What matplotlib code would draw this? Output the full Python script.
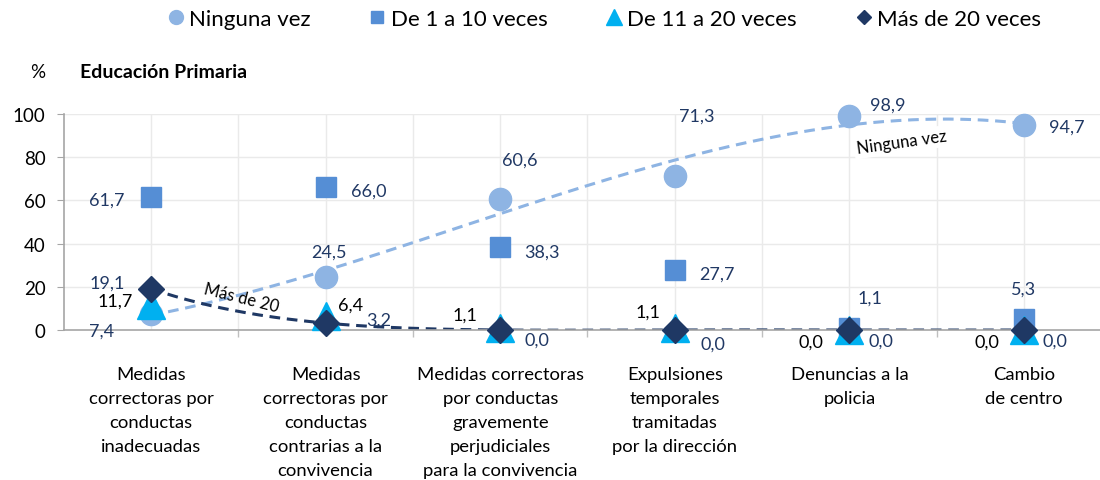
import matplotlib.pyplot as plt
import numpy as np
from matplotlib.ticker import FixedLocator

plt.rcParams['font.family'] = ['Lato', 'DejaVu Sans']

# data (Educación Primaria, %)
categorias = ["Medidas\ncorrectoras por\nconductas\ninadecuadas",
              "Medidas\ncorrectoras por\nconductas\ncontrarias a la\nconvivencia",
              "Medidas correctoras\npor conductas\ngravemente\nperjudiciales\npara la convivencia",
              "Expulsiones\ntemporales\ntramitadas\npor la dirección",
              "Denuncias a la\npolicia",
              "Cambio\nde centro"]
ninguna = [7.4, 24.5, 60.6, 71.3, 98.9, 94.7]
de1a10 = [61.7, 66.0, 38.3, 27.7, 1.1, 5.3]
de11a20 = [11.7, 6.4, 1.1, 1.1, 0.0, 0.0]
mas20 = [19.1, 3.2, 0.0, 0.0, 0.0, 0.0]
series_names = ["Ninguna vez", "De 1 a 10 veces", "De 11 a 20 veces", "Más de 20 veces"]

NAVY = '#203864'
colors = ['#8EB4E3', '#558ED5', '#00B0F0', '#1F3864']
markers = ['o', 's', '^', 'D']
msizes = [16, 14, 20.5, 13.5]
legend_ms = [10, 9, 11, 7.5]
label_colors = [NAVY, NAVY, 'black', NAVY]

# label offsets in pixels (dx right, dy down)
offsets = [
    [(-49, 17), (3, -25), (20, -39), (22, -60), (38, -12), (43, 1)],
    [(-44, 3), (43, 3), (42, 4), (42, 3), (21, -30), (0, -30)],
    [(-36, -4), (25, -12), (-35, -13), (-27, -16), (-38, 12), (-37, 12)],
    [(-44, -6), (53, -3), (37, 10), (38, 14), (32, 11), (31, 11)],
]

fig = plt.figure(figsize=(11, 4.81), dpi=100)
ax = fig.add_axes([63.7 / 1100, 1 - 331 / 481, 1047.6 / 1100, 216 / 481])

x = np.arange(1, len(categorias) + 1)
all_series = [ninguna, de1a10, de11a20, mas20]

for vals, c, m, ms, name in zip(all_series, colors, markers, msizes, series_names):
    ax.plot(x, vals, linestyle='none', marker=m, ms=ms, color=c, mec=c,
            clip_on=False, zorder=3, label=name)

# trend lines (polynomial)
xs = np.linspace(1, 6, 300)
p_ning = np.polyfit(x, ninguna, 3)
ax.plot(xs, np.polyval(p_ning, xs), color='#8EB4E3', lw=2.2,
        linestyle=(0, (3.5, 2.2)), zorder=2.5)
p_mas = np.polyfit(x, mas20, 5)
ax.plot(xs, np.polyval(p_mas, xs), color='#1F3864', lw=2.2,
        linestyle=(0, (3.5, 2.2)), zorder=2.5)

px2pt = 72 / 100
for vals, offs, lc in zip(all_series, offsets, label_colors):
    for xi, v, (dx, dy) in zip(x, vals, offs):
        ax.annotate(f"{v:.1f}".replace('.', ','), (xi, v),
                    xytext=(dx * px2pt, -dy * px2pt), textcoords='offset points',
                    ha='center', va='center', fontsize=13, color=lc,
                    annotation_clip=False, zorder=4)

ax.text(5.3, 87, "Ninguna vez", fontsize=12, rotation=8, ha='center', va='center',
        bbox=dict(facecolor='white', edgecolor='none', pad=2), zorder=2.6)
ax.text(1.52, 15, "Más de 20", fontsize=12, rotation=-14, ha='center', va='center',
        zorder=4)

ax.set_xlim(0.5, 6.5)
ax.set_ylim(0, 100)
ax.set_yticks(np.arange(0, 101, 20))
ax.set_xticks(x)
ax.set_xticklabels(categorias, fontsize=13.3, linespacing=1.62)
ax.xaxis.set_minor_locator(FixedLocator(np.arange(1.5, 6.5, 1)))
ax.tick_params(axis='x', which='major', length=0, pad=26)
ax.tick_params(axis='x', which='minor', length=5, color='#BFBFBF', width=1)
ax.tick_params(axis='y', length=5, color='#A6A6A6', labelsize=13.5, pad=8)
ax.grid(True, which='both', color='#EAEAEA', lw=1, zorder=0)
ax.set_axisbelow(True)
for s in ['top', 'right']:
    ax.spines[s].set_visible(False)
for s in ['left', 'bottom']:
    ax.spines[s].set_color('#A6A6A6')
    ax.spines[s].set_linewidth(1.2)

fig.text(38 / 1100, 1 - 72 / 481, "%", fontsize=13.5, ha='center', va='center')
fig.text(80 / 1100, 1 - 72 / 481, "Educación Primaria", fontsize=14,
         fontweight='bold', ha='left', va='center')

handles = [plt.Line2D([], [], linestyle='none', marker=m, ms=ms, color=c)
           for m, ms, c in zip(markers, legend_ms, colors)]
fig.legend(handles, series_names, loc='center', bbox_to_anchor=(0.548, 1 - 20 / 481),
           ncol=4, frameon=False, fontsize=16, handletextpad=0.1,
           columnspacing=2.5, handlelength=1.0)

fig.savefig('out.png', dpi=100)
